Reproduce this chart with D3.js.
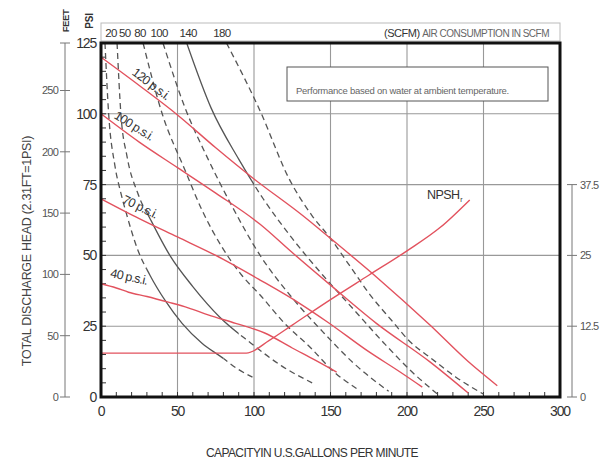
<!DOCTYPE html>
<html>
<head>
<meta charset="utf-8">
<script src="https://cdn.jsdelivr.net/npm/d3@7"></script>
<style>
  html, body { margin: 0; padding: 0; background: #fff; }
  svg { display: block; }
</style>
</head>
<body>
<svg id="chart" width="604" height="465"></svg>
<script>
// ---------- DATA ----------
const gpmTicks = [0, 50, 100, 150, 200, 250, 300];
const psiTicks = [0, 25, 50, 75, 100, 125];
const feetTicks = [0, 50, 100, 150, 200, 250];
const npshTicks = [0, 12.5, 25, 37.5];
const scfmLabels = ["20", "50", "80", "100", "140", "180"];
const scfmLabelGpm = [6.5, 15.5, 25.5, 38, 57, 79];

// pressure curves [gpm, psi]
const psi120 = [[0,120],[25,110],[50,99.6],[75,88],[100,77],[132,64],[150,56],[180,42.4],[215,25.4],[240,12.5],[259,4]];
const psi100 = [[0,100],[25,90],[50,81],[75,72],[104,61],[125,51],[150,39.5],[180,26],[215,12.4],[240,1.4]];
const psi70  = [[0,70],[25,63],[50,56.5],[75,50],[104,41.3],[130,33],[148,26.5],[175,16],[195,9],[210,3.5]];
const psi40  = [[0,40],[10,38.5],[18,37],[30,35.5],[44,33.5],[57,31.5],[70,29],[88,26],[107,22.6],[125,17.3],[140,13],[154,8.8]];
const pressureLabels = ["120 p.s.i.", "100 p.s.i.", "70 p.s.i.", "40 p.s.i."];

// NPSH required [gpm, ft]
const npsh = [[0,7.75],[95,7.75],[110,10],[125,12.7],[150,17.2],[175,21.5],[200,25.8],[222,30],[241,34.8]];

// air consumption curves [gpm, psi]
const air20  = [[2.6,125],[5,100],[9,82],[13,72],[17,64],[24,52],[32,43],[42,34],[53,26],[66,19],[79,14],[89,10],[99,7]];
const air50  = [[10.5,125],[13,100],[17,85],[24,72],[33,62],[45,50],[60,39],[78,28],[98,19],[118,11],[138,5]];
const air80  = [[27.5,125],[40,100],[55,80],[66,66],[79,53],[92,43],[104,36],[120,26],[137,17.4],[152,9],[167,3]];
const air100 = [[40.5,125],[55,102],[70,84],[85,68],[104,50],[125,35],[145,23],[165,12],[188,2]];
const air140 = [[56,125],[72,102],[90,84],[106,70],[125,56],[145,43],[165,31],[185,19],[203,9],[220,1]];
const air180 = [[82,125],[104,101],[123,77],[138,64],[150,56],[163,46],[176,36],[190,27],[202,19.5],[215,14],[232,7],[250,1]];
// solid (operating) section of each air curve, gpm range; null = dashed only
const airSolid = [[30,80], [30,90], null, null, [56,100], null];

// ---------- LAYOUT ----------
const svg = d3.select("#chart");
const x = d3.scaleLinear().domain([0, 300]).range([101, 560]);
const y = d3.scaleLinear().domain([0, 125]).range([397, 43]);
const feet = d3.scaleLinear().domain([0, 125 * 2.31]).range([397, 43]);
const npshY = d3.scaleLinear().domain([0, 62.5]).range([397, 43]);

const RED = "#e2525e";
const GRAY = "#555";
const fontNum = "'Liberation Sans', Arial, sans-serif";

// top SCFM box
svg.append("rect").attr("x", x(0)).attr("y", 23).attr("width", x(300) - x(0)).attr("height", 18)
  .attr("fill", "none").attr("stroke", "#bbb").attr("stroke-width", 1);
svg.append("g").selectAll("text").data(scfmLabels).join("text")
  .attr("x", (d, i) => x(scfmLabelGpm[i])).attr("y", 36.5)
  .attr("text-anchor", "middle").attr("font-family", fontNum).attr("font-size", 11.5)
  .attr("letter-spacing", -0.6).attr("fill", "#333").text(d => d);
const scfmTitle = svg.append("text").attr("x", 549).attr("y", 36.5).attr("text-anchor", "end")
  .attr("font-family", fontNum).attr("font-size", 10).attr("letter-spacing", -0.5);
scfmTitle.append("tspan").attr("fill", "#333").attr("font-size", 11).text("(SCFM) ");
scfmTitle.append("tspan").attr("fill", "#666").text("AIR CONSUMPTION IN SCFM");

// grid
const grid = svg.append("g").attr("stroke", "#999").attr("stroke-width", 1.1);
grid.selectAll("line.v").data(gpmTicks.filter(d => d > 0 && d < 300)).join("line")
  .attr("x1", d => x(d)).attr("x2", d => x(d)).attr("y1", y(0)).attr("y2", y(125));
grid.selectAll("line.h").data(psiTicks.filter(d => d > 0 && d < 125)).join("line")
  .attr("x1", x(0)).attr("x2", x(300)).attr("y1", d => y(d)).attr("y2", d => y(d));

// info box
svg.append("rect").attr("x", 287).attr("y", 67).attr("width", 261).attr("height", 34)
  .attr("fill", "#fff").attr("stroke", "#555").attr("stroke-width", 1);
svg.append("text").attr("x", 296).attr("y", 94).attr("font-family", fontNum).attr("font-size", 9.5)
  .attr("letter-spacing", -0.25).attr("fill", "#666").text("Performance based on water at ambient temperature.");

// minor ticks inside frame
const minor = svg.append("g").attr("stroke", "#333").attr("stroke-width", 1);
minor.selectAll("line.mx").data(d3.range(10, 300, 10)).join("line")
  .attr("x1", d => x(d)).attr("x2", d => x(d)).attr("y1", y(0)).attr("y2", y(0) - 5);
minor.selectAll("line.my").data(d3.range(5, 125, 5)).join("line")
  .attr("x1", x(0)).attr("x2", x(0) + 5).attr("y1", d => y(d)).attr("y2", d => y(d));

// air consumption curves
const line = d3.line().x(d => x(d[0])).y(d => y(d[1])).curve(d3.curveMonotoneX);
const airCurves = [air20, air50, air80, air100, air140, air180];
const defs = svg.append("defs");
airCurves.forEach((c, i) => {
  const s = airSolid[i];
  if (!s) {
    svg.append("path").attr("d", line(c)).attr("fill", "none").attr("stroke", GRAY)
      .attr("stroke-width", 1.3).attr("stroke-dasharray", "6,4");
    return;
  }
  const cs = defs.append("clipPath").attr("id", "cs" + i);
  cs.append("rect").attr("x", x(s[0])).attr("y", 0).attr("width", x(s[1]) - x(s[0])).attr("height", 465);
  const cd = defs.append("clipPath").attr("id", "cd" + i);
  cd.append("rect").attr("x", 0).attr("y", 0).attr("width", x(s[0])).attr("height", 465);
  cd.append("rect").attr("x", x(s[1])).attr("y", 0).attr("width", 604 - x(s[1])).attr("height", 465);
  svg.append("path").attr("d", line(c)).attr("fill", "none").attr("stroke", GRAY)
    .attr("stroke-width", 1.3).attr("stroke-dasharray", "6,4").attr("clip-path", `url(#cd${i})`);
  svg.append("path").attr("d", line(c)).attr("fill", "none").attr("stroke", GRAY)
    .attr("stroke-width", 1.3).attr("clip-path", `url(#cs${i})`);
});

// pressure curves
[psi120, psi100, psi70, psi40].forEach(c => {
  svg.append("path").attr("d", line(c)).attr("fill", "none").attr("stroke", RED).attr("stroke-width", 1.4);
});
const npshLine = d3.line().x(d => x(d[0])).y(d => npshY(d[1])).curve(d3.curveMonotoneX);
svg.append("path").attr("d", npshLine(npsh)).attr("fill", "none").attr("stroke", RED).attr("stroke-width", 1.4);

// pressure labels
const labelPos = [[151, 84, 37], [134, 126, 32], [140, 207, 26], [129, 277, 12]];
svg.append("g").selectAll("text").data(pressureLabels).join("text")
  .attr("transform", (d, i) => `translate(${labelPos[i][0]},${labelPos[i][1]}) rotate(${labelPos[i][2]})`)
  .attr("text-anchor", "middle").attr("dominant-baseline", "central")
  .attr("font-family", fontNum).attr("font-size", 12.5).attr("letter-spacing", -0.7)
  .attr("fill", "#333").text(d => d);

// NPSH label
const nl = svg.append("text").attr("x", 427).attr("y", 199).attr("font-family", fontNum)
  .attr("font-size", 12.5).attr("letter-spacing", -0.6).attr("fill", "#333");
nl.append("tspan").text("NPSH");
nl.append("tspan").attr("font-size", 7).attr("dy", 3).attr("dx", 1).text("r");

// frame
svg.append("rect").attr("x", x(0)).attr("y", y(125)).attr("width", x(300) - x(0)).attr("height", y(0) - y(125))
  .attr("fill", "none").attr("stroke", "#111").attr("stroke-width", 3);

// psi axis labels (left)
svg.append("g").selectAll("text").data(psiTicks).join("text")
  .attr("x", 96).attr("y", d => y(d)).attr("dy", "0.36em").attr("text-anchor", "end")
  .attr("font-family", fontNum).attr("font-size", 14).attr("letter-spacing", -1.2)
  .attr("fill", "#333").text(d => d);

// gpm axis labels (bottom)
svg.append("g").selectAll("text").data(gpmTicks).join("text")
  .attr("x", d => x(d)).attr("y", 416).attr("text-anchor", "middle")
  .attr("font-family", fontNum).attr("font-size", 14).attr("letter-spacing", -1.2)
  .attr("fill", "#333").text(d => d);

// feet axis
const fa = svg.append("g");
fa.append("line").attr("x1", 65).attr("x2", 65).attr("y1", feet(0)).attr("y2", feet(125 * 2.31))
  .attr("stroke", "#777").attr("stroke-width", 1);
fa.selectAll("line.t").data(feetTicks.concat([125 * 2.31])).join("line")
  .attr("x1", 60).attr("x2", 70).attr("y1", d => feet(d)).attr("y2", d => feet(d))
  .attr("stroke", "#777").attr("stroke-width", 1);
fa.selectAll("text").data(feetTicks).join("text")
  .attr("x", 58).attr("y", d => feet(d)).attr("dy", "0.36em").attr("text-anchor", "end")
  .attr("font-family", fontNum).attr("font-size", 11).attr("letter-spacing", -0.8)
  .attr("fill", "#555").text(d => d);

// npsh axis (right)
const na = svg.append("g");
na.append("line").attr("x1", 572).attr("x2", 572).attr("y1", npshY(0)).attr("y2", npshY(37.5))
  .attr("stroke", "#777").attr("stroke-width", 1);
na.selectAll("line.t").data(npshTicks).join("line")
  .attr("x1", 567).attr("x2", 577).attr("y1", d => npshY(d)).attr("y2", d => npshY(d))
  .attr("stroke", "#777").attr("stroke-width", 1);
na.selectAll("text").data(npshTicks).join("text")
  .attr("x", 580).attr("y", d => npshY(d)).attr("dy", "0.36em")
  .attr("font-family", fontNum).attr("font-size", 11).attr("letter-spacing", -0.8)
  .attr("fill", "#555").text(d => d);

// axis titles
svg.append("text").attr("transform", "translate(31,251) rotate(-90)").attr("text-anchor", "middle")
  .attr("font-family", fontNum).attr("font-size", 12.5).attr("letter-spacing", -0.3)
  .attr("fill", "#444").text("TOTAL DISCHARGE HEAD (2.31FT=1PSI)");
svg.append("text").attr("transform", "translate(69,21) rotate(-90)").attr("text-anchor", "middle")
  .attr("font-family", fontNum).attr("font-size", 9.5).attr("font-weight", "bold").attr("letter-spacing", -0.4)
  .attr("fill", "#333").text("FEET");
svg.append("text").attr("transform", "translate(93,21) rotate(-90)").attr("text-anchor", "middle")
  .attr("font-family", fontNum).attr("font-size", 10).attr("font-weight", "bold").attr("letter-spacing", -0.2)
  .attr("fill", "#333").text("PSI");
svg.append("text").attr("x", 312).attr("y", 457).attr("text-anchor", "middle")
  .attr("font-family", fontNum).attr("font-size", 12).attr("letter-spacing", -0.6)
  .attr("fill", "#333").text("CAPACITYIN U.S.GALLONS PER MINUTE");
</script>
</body>
</html>
